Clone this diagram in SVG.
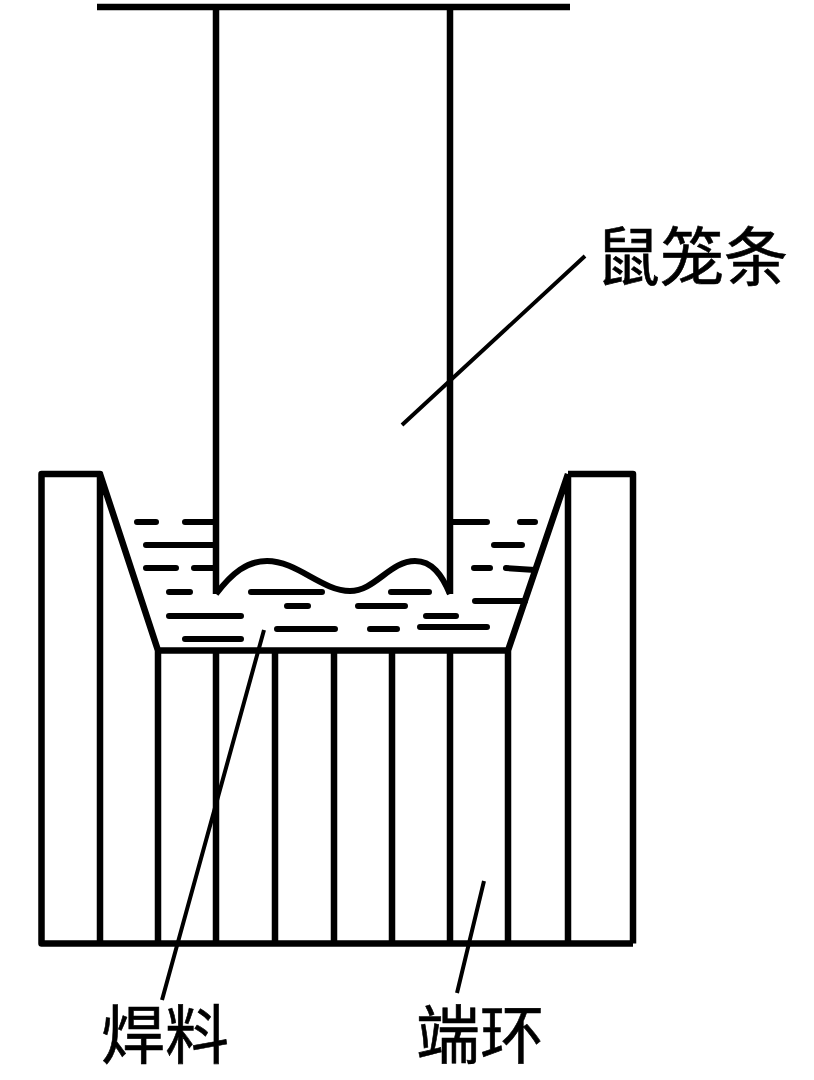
<svg xmlns="http://www.w3.org/2000/svg" width="814" height="1080" viewBox="0 0 814 1080">
<style>
.l{stroke:#000;stroke-width:6.5;fill:none;stroke-linejoin:round}
.c{stroke:#000;stroke-width:6;fill:none}
.t{stroke:#000;stroke-width:4;fill:none}
.d{stroke:#000;stroke-width:6;fill:none;stroke-linecap:round}
text{font-family:"Noto Sans CJK SC","Liberation Serif",serif;font-size:64px;fill:#000;stroke:#000;stroke-width:.6}
</style>
<rect width="814" height="1080" fill="#fff"/>
<g id="bar">
<path class="l" d="M97 7H570M216 7V594M450 7V594"/>
<path class="c" d="M216 594C232 573 247 561 267 561C297 561 322 591 350 591C375 591 390 561 415 561C432 561 442 575 450 594"/>
</g>
<g id="ring">
<path class="l" d="M41.500 474H100V943.500H41.500ZM41.500 943.500H633M100 474L158 650.500H508L568 474M568 474H633V943.500M568 474V943.500M158 650.500V943.500M216 650.500V943.500M275 650.500V943.500M334 650.500V943.500M392 650.500V943.500M450 650.500V943.500M508 650.500V943.500"/>
</g>
<g id="solder">
<path class="d" d="M137 522H156M185 522H216M146 545H216M146 568H176M194 568H216M169 592H190M251 592H322M287 606H308M358 606H405M391 592H429M475 601H525M169 616H241M185 639H241M277 629H335M370 629H397M426 616H456M420 627H487M453 522H487M520 522H535M494 545H522M474 568H490M506 568L535 570"/>
</g>
<g id="leaders">
<path class="t" d="M585 256L402 425M264 630L162 1000M484 881L457 993"/>
</g>
<g id="labels">
<text x="596" y="280">鼠笼条</text>
<text x="101" y="1058">焊料</text>
<text x="416" y="1058">端环</text>
</g>
</svg>
